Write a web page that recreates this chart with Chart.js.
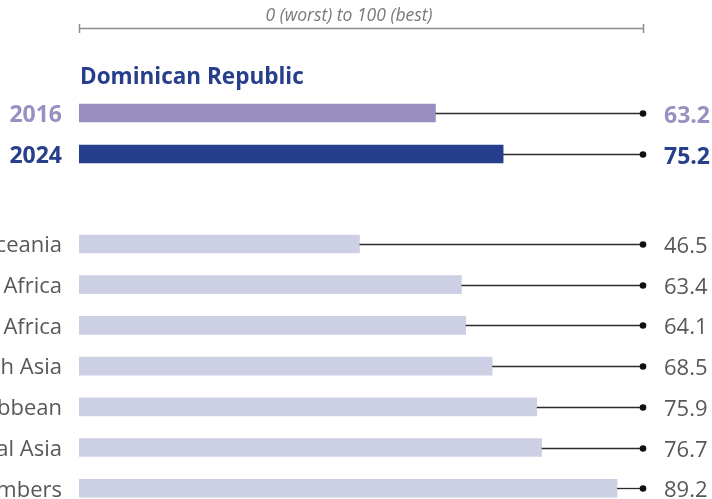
<!DOCTYPE html>
<html>
<head>
<meta charset="utf-8">
<script src="https://cdn.jsdelivr.net/npm/chart.js@4.4.1/dist/chart.umd.min.js"></script>
<style>
    html, body { margin: 0; padding: 0; background: #ffffff; overflow: hidden; }
    body { width: 712px; height: 499px; position: relative; }
    .box { position: absolute; left: 0; width: 712px; }
    #topBox { top: 0; height: 190px; }
    #regionBox { top: 200px; height: 320px; }
</style>
</head>
<body>
<div class="box" id="topBox"><canvas id="topChart"></canvas></div>
<div class="box" id="regionBox"><canvas id="regionChart"></canvas></div>

<script>
// 数据
const countryName = 'Dominican Republic';
const scaleCaption = '0 (worst) to 100 (best)';
const yearLabels = ['2016', '2024'];
const yearValues = [63.2, 75.2];
const regionLabels = [
    'East Asia and Oceania',
    'Sub-Saharan Africa',
    'Middle East and North Africa',
    'South Asia',
    'Latin America and the Caribbean',
    'Europe and Central Asia',
    'OECD members'
];
const regionValues = [46.5, 63.4, 64.1, 68.5, 75.9, 76.7, 89.2];

// 样式
const FONT = "'Open Sans', 'Noto Sans', sans-serif";
const yearBarColors = ['#978dbf', '#263e8b'];
const yearTextColors = ['#9791c1', '#26408c'];
const regionBarColor = '#cdcfe5';
const regionTextColor = '#58585b';
const AXIS_LEFT = 79;
const AXIS_RIGHT = 643;

/**
 * 棒棒糖线 + 数值标签
 */
const lollipopPlugin = {
    id: 'lollipop',
    afterDatasetsDraw(chart, args, opts) {
        const ctx = chart.ctx;
        const area = chart.chartArea;
        const meta = chart.getDatasetMeta(0);
        const values = chart.data.datasets[0].data;
        ctx.save();
        meta.data.forEach((bar, i) => {
            const y = Math.round(bar.y) + 0.5;
            ctx.strokeStyle = '#2b2b2b';
            ctx.lineWidth = 1.3;
            ctx.beginPath();
            ctx.moveTo(bar.x, y);
            ctx.lineTo(area.right, y);
            ctx.stroke();
            ctx.fillStyle = '#111111';
            ctx.beginPath();
            ctx.arc(area.right, y, 3.3, 0, Math.PI * 2);
            ctx.fill();
            const colors = opts.textColors;
            ctx.fillStyle = Array.isArray(colors) ? colors[i] : colors;
            ctx.font = opts.font;
            ctx.textAlign = 'left';
            ctx.textBaseline = 'middle';
            ctx.fillText(values[i].toFixed(1), area.right + 21, y + 2.5);
        });
        ctx.restore();
    }
};

/**
 * 顶部刻度说明和国家标题
 */
const headerPlugin = {
    id: 'header',
    afterDraw(chart) {
        const ctx = chart.ctx;
        const x = chart.scales.x;
        const x0 = x.getPixelForValue(0);
        const x1 = x.getPixelForValue(100);
        ctx.save();
        ctx.strokeStyle = '#8b8b92';
        ctx.lineWidth = 1.5;
        ctx.beginPath();
        ctx.moveTo(x0, 28.5);
        ctx.lineTo(x1, 28.5);
        ctx.moveTo(x0 + 0.5, 24);
        ctx.lineTo(x0 + 0.5, 33);
        ctx.moveTo(x1 + 0.5, 24);
        ctx.lineTo(x1 + 0.5, 33);
        ctx.stroke();

        ctx.fillStyle = '#7a7a7d';
        ctx.font = 'italic 17.5px ' + FONT;
        ctx.textAlign = 'center';
        ctx.textBaseline = 'alphabetic';
        ctx.fillText(scaleCaption, (x0 + x1) / 2 - 12, 21);

        ctx.fillStyle = '#263e8b';
        ctx.font = 'bold 22.5px ' + FONT;
        ctx.textAlign = 'left';
        ctx.fillText(countryName, x0 + 1, 84);
        ctx.restore();
    }
};

// 固定y轴宽度，并去掉刻度带来的上下留白
function fixedYAxis(scale) {
    scale.width = AXIS_LEFT;
    scale.paddingTop = 0;
    scale.paddingBottom = 0;
}

function buildOptions(xMax, tickFont, tickColors, padTop, padBottom, valueFont, valueColors) {
    return {
        indexAxis: 'y',
        responsive: true,
        maintainAspectRatio: false,
        animation: false,
        layout: { padding: { left: 0, right: 712 - AXIS_RIGHT, top: padTop, bottom: padBottom } },
        plugins: {
            legend: { display: false },
            tooltip: { enabled: false },
            lollipop: { font: valueFont, textColors: valueColors }
        },
        scales: {
            x: { display: false, min: 0, max: xMax },
            y: {
                afterFit: fixedYAxis,
                grid: { display: false, drawTicks: false },
                border: { display: false },
                ticks: {
                    padding: 17,
                    labelOffset: 2,
                    font: tickFont,
                    color: tickColors
                }
            }
        }
    };
}

// 顶部国家图
new Chart(document.getElementById('topChart'), {
    type: 'bar',
    data: {
        labels: yearLabels,
        datasets: [{
            data: yearValues,
            backgroundColor: yearBarColors,
            barThickness: 18
        }]
    },
    options: buildOptions(
        100,
        { family: FONT, size: 23, weight: 'bold' },
        ctx => yearTextColors[ctx.index],
        92.5, 15.5,
        'bold 23px ' + FONT,
        yearTextColors
    ),
    plugins: [lollipopPlugin, headerPlugin]
});

// 区域对比图（原图下半部分比例略大）
new Chart(document.getElementById('regionChart'), {
    type: 'bar',
    data: {
        labels: regionLabels,
        datasets: [{
            data: regionValues,
            backgroundColor: regionBarColor,
            barThickness: 18
        }]
    },
    options: buildOptions(
        93.5,
        { family: FONT, size: 22 },
        regionTextColor,
        23.6, 11.4,
        '22px ' + FONT,
        regionTextColor
    ),
    plugins: [lollipopPlugin]
});
</script>
</body>
</html>
